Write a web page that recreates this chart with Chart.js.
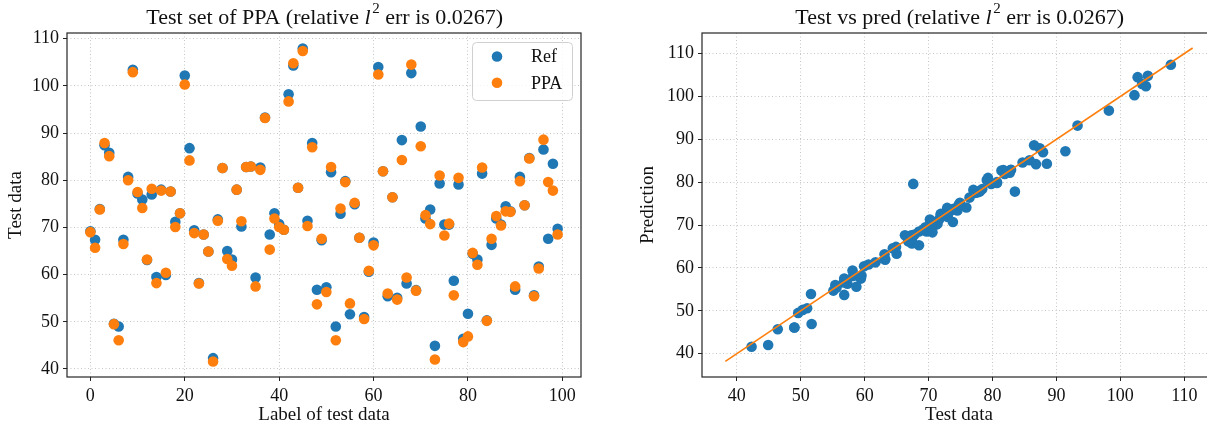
<!DOCTYPE html>
<html>
<head>
<meta charset="utf-8">
<script src="https://cdn.jsdelivr.net/npm/chart.js@4/dist/chart.umd.min.js"></script>
<style>
html, body { margin: 0; padding: 0; background: #fff; overflow: hidden; }
#wrap { position: relative; width: 1207px; height: 434px; overflow: hidden; }
#testSet { position: absolute; left: 0; top: 0; }
#testVsPred { position: absolute; left: 620px; top: 0; }
</style>
</head>
<body>
<div id="wrap">
  <canvas id="testSet" width="600" height="434"></canvas>
  <canvas id="testVsPred" width="620" height="434"></canvas>
</div>
<script>
// reference values of the test set
var refData = [
  69.2, 67.4, 73.9, 87.4, 85.8, 49.6, 49.0, 67.4, 80.7, 103.4,
  77.2, 75.9, 63.1, 77.0, 59.5, 78.0, 59.9, 77.6, 71.2, 73.0,
  102.2, 86.8, 69.4, 58.2, 68.5, 64.9, 42.3, 71.7, 82.6, 65.0,
  63.2, 78.0, 70.2, 82.8, 82.9, 59.4, 82.7, 93.3, 68.5, 73.0,
  70.7, 69.5, 98.2, 104.3, 78.4, 107.9, 71.4, 87.9, 56.8, 67.3,
  57.3, 81.7, 49.0, 72.9, 79.8, 51.6, 74.9, 67.8, 51.0, 60.6,
  66.8, 104.0, 81.9, 55.4, 76.4, 55.1, 88.5, 58.1, 102.7, 56.7,
  91.4, 71.9, 73.8, 44.9, 79.3, 70.6, 70.6, 58.7, 79.1, 46.4,
  51.7, 64.4, 63.2, 81.4, 50.3, 66.3, 71.9, 70.6, 74.5, 73.4,
  56.8, 80.7, 74.7, 84.7, 55.6, 61.7, 86.5, 67.6, 83.5, 69.7
];
// PPA predictions for the same samples
var ppaData = [
  69.0, 65.7, 73.8, 87.9, 85.1, 49.5, 46.1, 66.5, 80.0, 102.9,
  77.5, 74.1, 63.2, 78.2, 58.2, 77.8, 60.4, 77.6, 70.1, 73.0,
  100.3, 84.2, 68.8, 58.1, 68.5, 64.9, 41.6, 71.4, 82.6, 63.3,
  61.9, 78.0, 71.3, 82.8, 82.9, 57.5, 82.2, 93.2, 65.3, 71.9,
  70.1, 69.5, 96.7, 104.8, 78.4, 107.4, 70.3, 87.0, 53.7, 67.6,
  56.3, 82.8, 46.1, 74.0, 79.6, 53.9, 75.2, 67.8, 50.6, 60.8,
  66.2, 102.4, 81.9, 56.0, 76.4, 54.7, 84.3, 59.4, 104.5, 56.6,
  87.2, 72.6, 70.7, 42.0, 81.0, 68.3, 70.8, 55.6, 80.5, 45.7,
  46.9, 64.6, 62.1, 82.7, 50.2, 67.6, 72.4, 70.4, 73.4, 73.3,
  57.5, 79.8, 74.7, 84.6, 55.4, 61.3, 88.6, 79.6, 77.8, 68.5
];
var labelTicks = [0, 20, 40, 60, 80, 100];
var valueTicks = [40, 50, 60, 70, 80, 90, 100, 110];
var diagRange = [38.2, 111.3];

var blue = '#1f77b4';
var orange = '#ff7f0e';
var serif = '"Liberation Serif", "Times New Roman", serif';
var gridColor = 'rgba(176,176,176,0.9)';

var sampleIdx = refData.map(function (v, i) { return i; });

function fixTicks(list) {
  return function (scale) {
    scale.ticks = list.map(function (v) { return { value: v }; });
  };
}

function axis(opts) {
  return {
    type: 'linear',
    position: opts.position,
    min: opts.min,
    max: opts.max,
    afterBuildTicks: fixTicks(opts.ticks),
    afterFit: function (scale) {
      if (opts.position === 'left') scale.width = opts.size;
      else scale.height = opts.size;
    },
    grid: {
      color: gridColor,
      lineWidth: 0.8,
      tickLength: 4,
      tickColor: '#222',
      tickWidth: 1,
      tickBorderDash: []
    },
    border: { display: false, dash: [1, 2.5] },
    ticks: {
      color: '#111',
      padding: 4,
      font: { family: serif, size: 18 }
    },
    title: {
      display: true,
      text: opts.title,
      color: '#111',
      font: { family: serif, size: 19 },
      padding: opts.titlePad
    }
  };
}

// title with an italic l and a superscript 2
function mathTitle(parts) {
  return {
    id: 'mathTitle',
    afterDraw: function (chart) {
      var ctx = chart.ctx, area = chart.chartArea;
      var size = 22;
      var fonts = parts.map(function (p) {
        if (p.sup) return '15px ' + serif;
        return (p.it ? 'italic ' : '') + size + 'px ' + serif;
      });
      ctx.save();
      var widths = parts.map(function (p, i) {
        ctx.font = fonts[i];
        return ctx.measureText(p.t).width;
      });
      var total = widths.reduce(function (a, b) { return a + b; }, 0);
      var x = (area.left + area.right) / 2 - total / 2;
      var y = 24;
      ctx.fillStyle = '#111';
      ctx.textBaseline = 'alphabetic';
      ctx.textAlign = 'left';
      parts.forEach(function (p, i) {
        ctx.font = fonts[i];
        ctx.fillText(p.t, x, p.sup ? y - 11.5 : y);
        x += widths[i] + (p.it ? 1.5 : 0);
      });
      ctx.restore();
    }
  };
}

var frame = {
  id: 'frame',
  afterDatasetsDraw: function (chart) {
    var ctx = chart.ctx, a = chart.chartArea;
    ctx.save();
    ctx.strokeStyle = '#262626';
    ctx.lineWidth = 1.2;
    ctx.strokeRect(a.left, a.top, a.right - a.left, a.bottom - a.top);
    ctx.restore();
  }
};

var boxLegend = {
  id: 'boxLegend',
  afterDraw: function (chart) {
    var ctx = chart.ctx, a = chart.chartArea;
    var w = 100, h = 58;
    var x0 = a.right - 9 - w, y0 = a.top + 9;
    ctx.save();
    ctx.fillStyle = 'rgba(255,255,255,0.8)';
    ctx.strokeStyle = '#d0d0d0';
    ctx.lineWidth = 1;
    ctx.beginPath();
    ctx.roundRect(x0 + 0.5, y0 + 0.5, w, h, 4);
    ctx.fill();
    ctx.stroke();
    ctx.font = '18px ' + serif;
    ctx.textBaseline = 'middle';
    ctx.fillStyle = '#111';
    chart.data.datasets.forEach(function (ds, i) {
      var cy = y0 + 14.5 + i * 26.3;
      ctx.fillStyle = ds.backgroundColor;
      ctx.beginPath();
      ctx.arc(x0 + 25, cy, 5.3, 0, Math.PI * 2);
      ctx.fill();
      ctx.fillStyle = '#111';
      ctx.fillText(ds.label, x0 + 59, cy + 1);
    });
    ctx.restore();
  }
};

function pointsOf(ys) {
  return ys.map(function (y, i) { return { x: sampleIdx[i], y: y }; });
}

new Chart(document.getElementById('testSet').getContext('2d'), {
  type: 'scatter',
  data: {
    datasets: [
      { label: 'Ref', data: pointsOf(refData), backgroundColor: blue, borderWidth: 0, pointRadius: 5.3, pointHoverRadius: 5.3, order: 2 },
      { label: 'PPA', data: pointsOf(ppaData), backgroundColor: orange, borderWidth: 0, pointRadius: 5.3, pointHoverRadius: 5.3, order: 1 }
    ]
  },
  options: {
    responsive: false,
    animation: false,
    layout: { padding: { top: 33, right: 19, bottom: 0, left: 0 } },
    plugins: { legend: { display: false }, tooltip: { enabled: false } },
    scales: {
      x: axis({ position: 'bottom', min: -4.95, max: 103.95, ticks: labelTicks, size: 57,
                title: 'Label of test data', titlePad: { top: 0, bottom: 8 } }),
      y: axis({ position: 'left', min: 38.3, max: 111.2, ticks: valueTicks, size: 67,
                title: 'Test data', titlePad: { top: 5, bottom: 0 } })
    }
  },
  plugins: [frame, boxLegend, mathTitle([
    { t: 'Test set of PPA (relative ' }, { t: 'l', it: true }, { t: '2', sup: true }, { t: ' err is 0.0267)' }
  ])]
});

var pairs = refData.map(function (r, i) { return { x: r, y: ppaData[i] }; });
var diag = diagRange.map(function (v) { return { x: v, y: v }; });

new Chart(document.getElementById('testVsPred').getContext('2d'), {
  type: 'scatter',
  data: {
    datasets: [
      { label: 'Test vs pred', data: pairs, backgroundColor: blue, borderWidth: 0, pointRadius: 5.3, pointHoverRadius: 5.3, order: 2 },
      { label: 'y = x', data: diag, showLine: true, borderColor: orange, borderWidth: 1.6, pointRadius: 0, order: 1 }
    ]
  },
  options: {
    responsive: false,
    animation: false,
    layout: { padding: { top: 33, right: 24, bottom: 0, left: 0 } },
    plugins: { legend: { display: false }, tooltip: { enabled: false } },
    scales: {
      x: axis({ position: 'bottom', min: 34.55, max: 114.96, ticks: valueTicks, size: 57,
                title: 'Test data', titlePad: { top: 0, bottom: 8 } }),
      y: axis({ position: 'left', min: 34.55, max: 114.8, ticks: valueTicks, size: 82,
                title: 'Prediction', titlePad: { top: 17, bottom: 0 } })
    }
  },
  plugins: [frame, mathTitle([
    { t: 'Test vs pred (relative ' }, { t: 'l', it: true }, { t: '2', sup: true }, { t: ' err is 0.0267)' }
  ])]
});
</script>
</body>
</html>
